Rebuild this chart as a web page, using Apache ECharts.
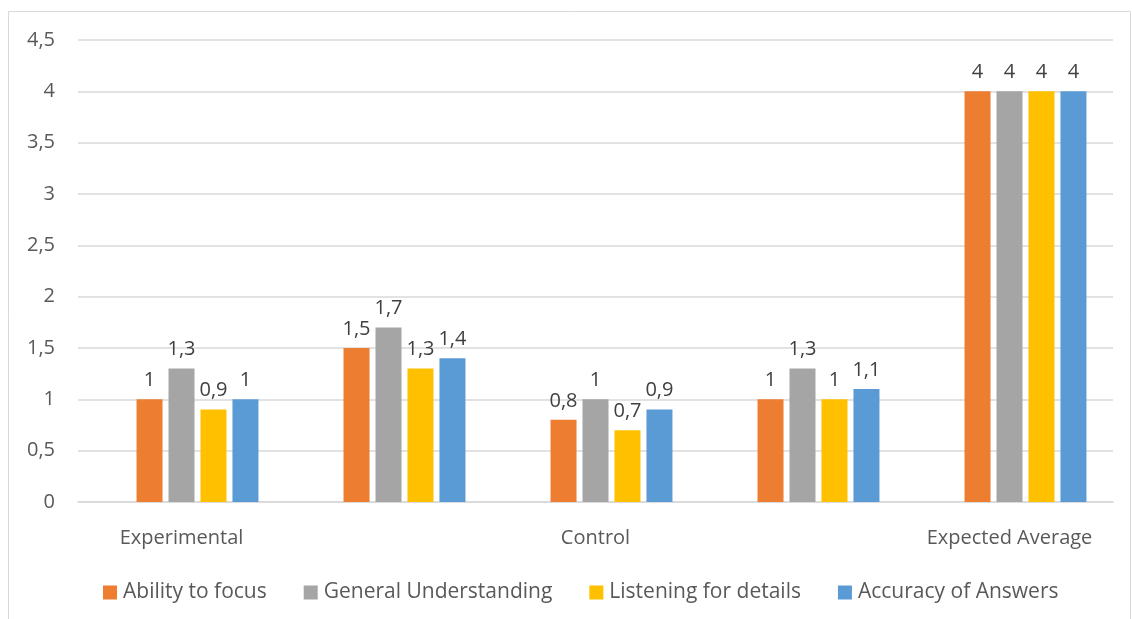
<!DOCTYPE html>
<html>
<head>
<meta charset="utf-8">
<script src="https://cdn.jsdelivr.net/npm/echarts@6/dist/echarts.min.js"></script>
<style>
  html, body { margin: 0; padding: 0; background: #fff; }
  #chart { width: 1132px; height: 619px; }
</style>
</head>
<body>
<div id="chart"></div>
<script>
// categories (only every other one has a label, like the source sheet)
const categories = ['Experimental', '', 'Control', '', 'Expected Average'];

const abilityToFocus = [1, 1.5, 0.8, 1, 4];
const generalUnderstanding = [1.3, 1.7, 1, 1.3, 4];
const listeningForDetails = [0.9, 1.3, 0.7, 1, 4];
const accuracyOfAnswers = [1, 1.4, 0.9, 1.1, 4];
// empty first series: it keeps its slot in each cluster, so bars sit right of centre
const emptySeries = [null, null, null, null, null];

const seriesNames = ['Ability to focus', 'General Understanding', 'Listening for details', 'Accuracy of Answers'];
const colors = ['#ED7D31', '#A5A5A5', '#FFC000', '#5B9BD5'];

const FONT = '"Open Sans", sans-serif';
const comma = v => String(v).replace('.', ',');

const chart = echarts.init(document.getElementById('chart'));

function barSeries(name, data, color) {
  return {
    name: name,
    type: 'bar',
    data: data,
    barWidth: 26,
    barGap: '23%',
    itemStyle: { color: color },
    label: {
      show: true,
      position: 'top',
      distance: 9,
      color: '#404040',
      fontFamily: FONT,
      fontSize: 20,
      formatter: p => comma(p.value),
    },
  };
}

const option = {
  animation: false,
  graphic: [{
    type: 'rect',
    shape: { x: 8.5, y: 11.5, width: 1122, height: 640 },
    style: { fill: 'none', stroke: '#d9d9d9', lineWidth: 1 },
    silent: true,
  }],
  grid: {
    left: 78,
    right: 19,
    top: 40,
    bottom: 117,
  },
  legend: {
    data: seriesNames,
    bottom: 11,
    left: 98,
    itemWidth: 14,
    itemHeight: 14,
    itemGap: 37,
    icon: 'rect',
    textStyle: {
      color: '#595959',
      fontFamily: FONT,
      fontSize: 21,
      padding: [0, 0, 0, 1],
    },
  },
  xAxis: {
    type: 'category',
    data: categories,
    axisTick: { show: false },
    axisLine: { lineStyle: { color: '#d9d9d9', width: 1.5 } },
    axisLabel: {
      interval: 0,
      margin: 26,
      color: '#595959',
      fontFamily: FONT,
      fontSize: 20,
    },
  },
  yAxis: {
    type: 'value',
    min: 0,
    max: 4.5,
    interval: 0.5,
    axisLine: { show: false },
    axisTick: { show: false },
    splitLine: { lineStyle: { color: '#d9d9d9', width: 1.5 } },
    axisLabel: {
      margin: 23,
      color: '#595959',
      fontFamily: FONT,
      fontSize: 20,
      formatter: v => comma(v),
    },
  },
  series: [
    {
      name: '',
      type: 'bar',
      data: emptySeries,
      barWidth: 26,
      barGap: '23%',
      label: { show: false },
    },
    barSeries(seriesNames[0], abilityToFocus, colors[0]),
    barSeries(seriesNames[1], generalUnderstanding, colors[1]),
    barSeries(seriesNames[2], listeningForDetails, colors[2]),
    barSeries(seriesNames[3], accuracyOfAnswers, colors[3]),
  ],
};

chart.setOption(option);
</script>
</body>
</html>
